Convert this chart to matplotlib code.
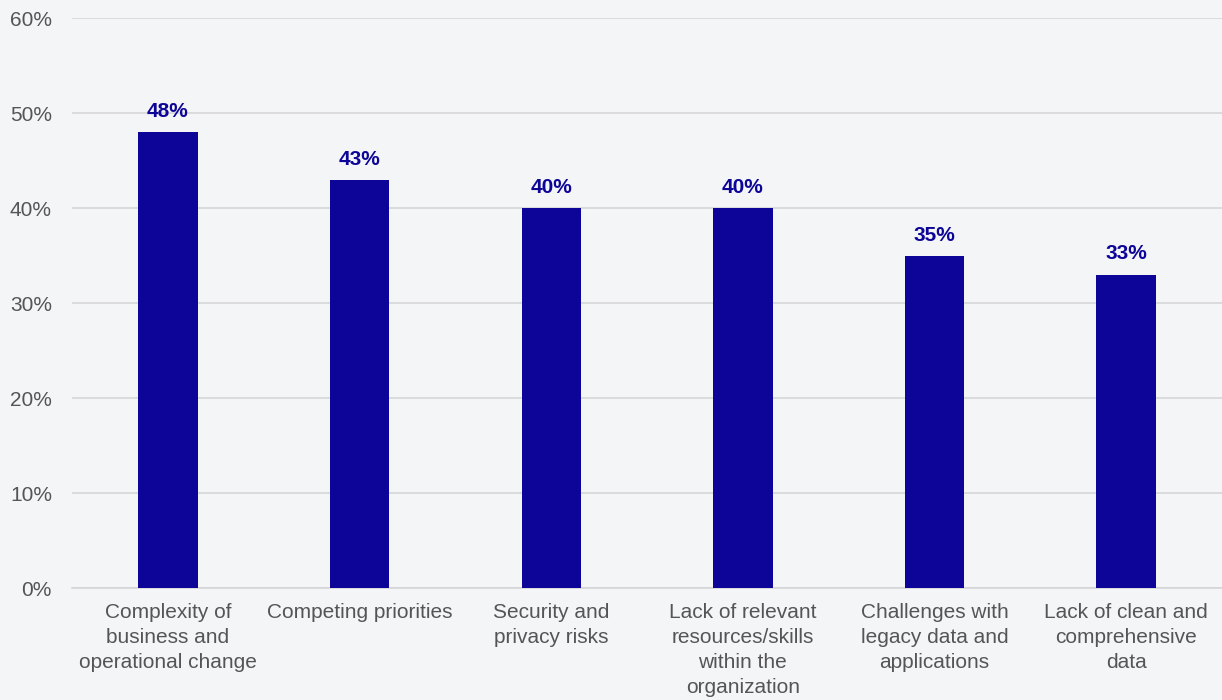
import matplotlib.pyplot as plt
from matplotlib.ticker import FuncFormatter

categories = [
    "Complexity of\nbusiness and\noperational change",
    "Competing priorities",
    "Security and\nprivacy risks",
    "Lack of relevant\nresources/skills\nwithin the\norganization",
    "Challenges with\nlegacy data and\napplications",
    "Lack of clean and\ncomprehensive\ndata",
]
values = [48, 43, 40, 40, 35, 33]

bg = "#f4f5f7"
bar_color = "#0d0597"
text_grey = "#555555"

plt.rcParams["font.family"] = ["Liberation Sans", "DejaVu Sans"]

fig = plt.figure(figsize=(12.22, 7), dpi=100, facecolor=bg)
ax = fig.add_axes([0.059, 0.16, 0.941, 0.814])
ax.set_facecolor(bg)

x = range(len(categories))
ax.bar(x, values, width=0.31, color=bar_color, zorder=3)

# value labels above the bars
for i, v in enumerate(values):
    ax.annotate(f"{v}%", (i, v), xytext=(0, 8), textcoords="offset points",
                ha="center", va="bottom", fontsize=15, fontweight="bold",
                color=bar_color)

ax.set_xlim(-0.5, len(categories) - 0.5)
ax.set_ylim(0, 60)
ax.set_yticks(range(0, 61, 10))
ax.yaxis.set_major_formatter(FuncFormatter(lambda v, p: f"{v:.0f}%"))
ax.grid(axis="y", color="#d6d6d8", linewidth=1.2, zorder=0)

ax.set_xticks(list(x))
ax.set_xticklabels(categories, fontsize=15, color=text_grey, linespacing=1.4)
ax.tick_params(axis="x", length=0, pad=11)
ax.tick_params(axis="y", length=0, pad=14.5, labelsize=15, labelcolor=text_grey)

for side in ["top", "right", "left"]:
    ax.spines[side].set_visible(False)
ax.spines["bottom"].set_color("#d6d6d8")
ax.spines["bottom"].set_linewidth(1.2)

fig.savefig("out.png", dpi=100, facecolor=bg)
